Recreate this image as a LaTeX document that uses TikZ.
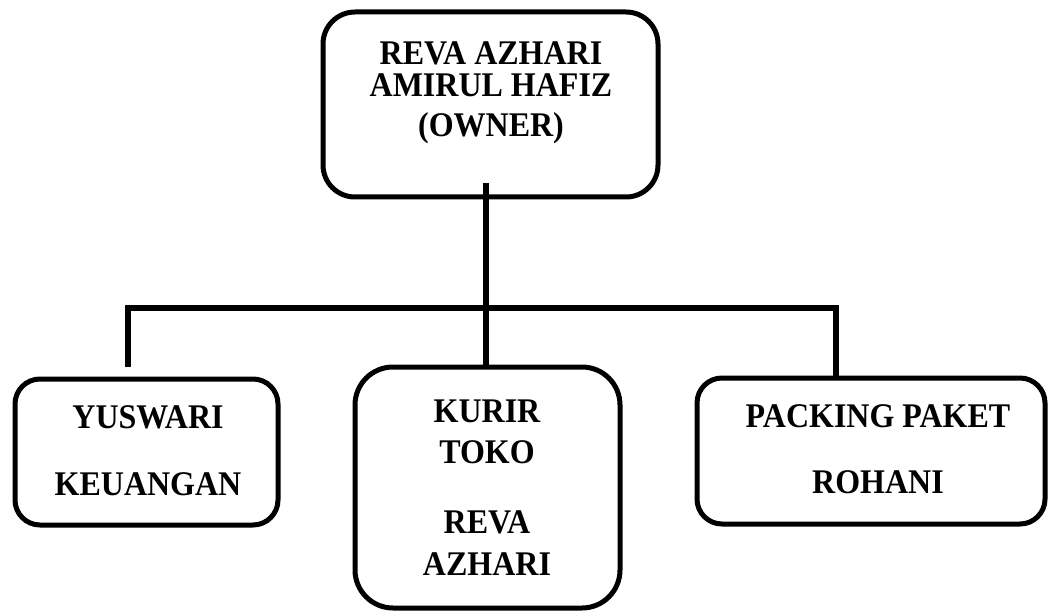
\documentclass[tikz,border=0pt]{standalone}
\usepackage{fontspec}
\setmainfont{Liberation Serif}
\newcommand{\tallbox}[1]{\scalebox{1}[1.08]{#1}}
\begin{document}
\begin{tikzpicture}[x=1pt,y=-1pt,
  box/.style={draw=black, line width=5pt, fill=none, inner sep=0pt, outer sep=0pt},
  lbl/.style={font=\fontsize{32}{36}\selectfont\bfseries, inner sep=0pt, anchor=base},
  conn/.style={draw=black, line width=5.5pt}]
\useasboundingbox (0,0) rectangle (1048,612);
% boxes
\node[box, rounded corners=32pt, minimum width=335pt, minimum height=185pt] (owner) at (490.5,104.5) {};
\node[box, rounded corners=25pt, minimum width=263pt, minimum height=146pt] (yus) at (146.5,452) {};
\node[box, rounded corners=38pt, minimum width=265pt, minimum height=241pt] (kurir) at (487.5,487.5) {};
\node[box, rounded corners=25pt, minimum width=348pt, minimum height=146pt] (pak) at (871,451) {};
% texts
\node[lbl] (o1) at (491,65) {\tallbox{REVA AZHARI}};
\node[lbl] (o2) at (491,97) {\tallbox{AMIRUL HAFIZ}};
\node[lbl] (o3) at (491,137) {\tallbox{(OWNER)}};
\node[lbl] (y1) at (148,428) {\tallbox{YUSWARI}};
\node[lbl] (y2) at (148,495) {\tallbox{KEUANGAN}};
\node[lbl] (k1) at (487,422) {\tallbox{KURIR}};
\node[lbl] (k2) at (487,463) {\tallbox{TOKO}};
\node[lbl] (k3) at (487,533) {\tallbox{REVA}};
\node[lbl] (k4) at (487,575) {\tallbox{AZHARI}};
\node[lbl] (p1) at (878,427) {\tallbox{PACKING PAKET}};
\node[lbl] (p2) at (878,493) {\tallbox{ROHANI}};
% connectors
\coordinate (ostart) at (486,183);
\coordinate (hl) at (128,308);
\coordinate (hr) at (836,308);
\coordinate (lend) at (128,367);
\draw[conn] (ostart) -- (ostart |- kurir.north);
\draw[conn] (lend) -- (hl) -- (hr) -- (hr |- pak.north);
\end{tikzpicture}
\end{document}
